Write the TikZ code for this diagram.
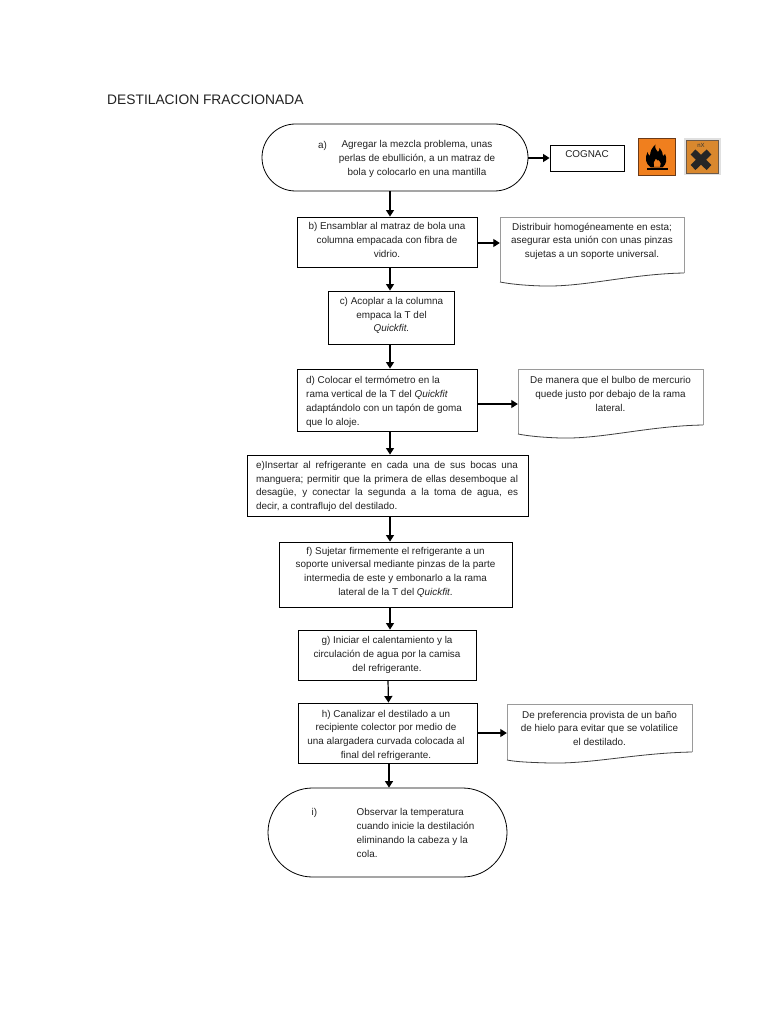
\documentclass[tikz,border=0pt]{standalone}
\usepackage{fontspec}
\setmainfont{Liberation Sans}
\usetikzlibrary{shapes.misc,arrows.meta}
\definecolor{ink}{HTML}{222222}
\definecolor{docedge}{HTML}{9A9A9A}
\definecolor{hazorange}{HTML}{F07F1E}
\definecolor{hazbrown}{HTML}{6B3A18}
\definecolor{xnorange}{HTML}{D9882E}
\definecolor{xnedge}{HTML}{6E5A48}
\tikzset{
  boxst/.style={draw=black,line width=.9pt,rectangle,inner sep=0pt},
  terminal/.style={draw=black,line width=.8pt,rounded rectangle,rounded rectangle arc length=180,inner sep=0pt},
  txt/.style={text=ink,align=center,inner sep=0pt,font=\fontsize{9.9}{13.8}\selectfont},
  ltxt/.style={text=ink,align=left,anchor=north west,inner sep=0pt,font=\fontsize{9.9}{13.8}\selectfont},
  flow/.style={draw=black,line width=1.2pt,-{Triangle[length=6.5pt,width=8pt]}},
  docside/.style={docedge,line width=.7pt},
  docwave/.style={black!60!docedge,line width=.8pt},
  hidden/.style={rectangle,inner sep=0pt,draw=none}
}
\begin{document}
\begin{tikzpicture}[x=1pt,y=-1pt]
\useasboundingbox (0,0) rectangle (768,1024);
\fill[white] (0,0) rectangle (768,1024);
\coordinate (spine) at (390,0);

\node[text=ink,anchor=west,inner sep=0pt,font=\fontsize{13.8}{17}\selectfont] (title) at (107,100) {DESTILACION FRACCIONADA};

% terminals and boxes
\node[terminal,minimum width=266pt,minimum height=67pt] (a) at (395,157.5) {};
\node[boxst,minimum width=74pt,minimum height=26pt] (cognac) at (587,158) {};
\node[boxst,minimum width=180pt,minimum height=50pt] (b) at (387,242) {};
\node[boxst,minimum width=126pt,minimum height=53pt] (c) at (391,317.5) {};
\node[boxst,minimum width=180pt,minimum height=62pt] (d) at (387,400) {};
\node[boxst,minimum width=281pt,minimum height=61pt] (e) at (387.5,485.5) {};
\node[boxst,minimum width=233pt,minimum height=65pt] (f) at (395.5,574.5) {};
\node[boxst,minimum width=178pt,minimum height=50pt] (g) at (387,655) {};
\node[boxst,minimum width=179pt,minimum height=60pt] (h) at (387.5,733) {};
\node[terminal,minimum width=239pt,minimum height=89pt] (i) at (387.5,832.5) {};

% wavy documents
\draw[docside] (500,282) -- (500,217) -- (684,217) -- (684,273);
\draw[docwave] (684,273) .. controls (630,274) and (585,287) .. (543,286) .. controls (525,285.5) and (510,284) .. (500,282);
\node[hidden,minimum width=184pt,minimum height=52pt] (doc1) at (592,243) {};
\draw[docside] (518,434) -- (518,369) -- (703,369) -- (703,425);
\draw[docwave] (703,425) .. controls (648,426) and (603,439) .. (561,438) .. controls (543,437.5) and (528,436) .. (518,434);
\node[hidden,minimum width=185pt,minimum height=70pt] (doc2) at (610.5,404) {};
\draw[docside] (507,760) -- (507,704) -- (692,704) -- (692,752);
\draw[docwave] (692,752) .. controls (637,753) and (592,764) .. (550,763) .. controls (532,762.5) and (517,762) .. (507,760);
\node[hidden,minimum width=185pt,minimum height=58pt] (doc3) at (599.5,733) {};

% texts
\node[ltxt] (alabel) at (318,141) {a)};
\node[txt] (atext) at (417,159) {Agregar la mezcla problema, unas\\perlas de ebullición, a un matraz de\\bola y colocarlo en una mantilla};
\node[txt] (cogtext) at (587,154) {COGNAC};
\node[txt] (btext) at (387,240) {b) Ensamblar al matraz de bola una\\columna empacada con fibra de\\vidrio.};
\node[txt] (ctext) at (391.5,315.5) {c) Acoplar a la columna\\empaca la T del\\\textit{Quickfit.}};
\node[ltxt] (dtext) at (306,376.5) {d) Colocar el termómetro en la\\rama vertical de la T del \textit{Quickfit}\\adaptándolo con un tapón de goma\\que lo aloje.};
\node[txt,align=justify,text width=262pt] (etext) at (387,486.5) {e)Insertar al refrigerante en cada una de sus bocas una\linebreak manguera; permitir que la primera de ellas desemboque al\linebreak desagüe, y conectar la segunda a la toma de agua, es\linebreak decir, a contraflujo del destilado.};
\node[txt] (ftext) at (395.5,572.2) {f) Sujetar firmemente el refrigerante a un\\soporte universal mediante pinzas de la parte\\intermedia de este y embonarlo a la rama\\lateral de la T del \textit{Quickfit}.};
\node[txt] (gtext) at (387,654.7) {g) Iniciar el calentamiento y la\\circulación de agua por la camisa\\del refrigerante.};
\node[txt] (htext) at (386,735.2) {h) Canalizar el destilado a un\\recipiente colector por medio de\\una alargadera curvada colocada al\\final del refrigerante.};
\node[ltxt] (ilabel) at (311.5,808.5) {i)};
\node[ltxt] (itext) at (356.5,808.5) {Observar la temperatura\\cuando inicie la destilación\\eliminando la cabeza y la\\cola.};
\node[txt] (d1text) at (592,241.3) {Distribuir homogéneamente en esta;\\asegurar esta unión con unas pinzas\\sujetas a un soporte universal.};
\node[txt] (d2text) at (610.5,394) {De manera que el bulbo de mercurio\\quede justo por debajo de la rama\\lateral.};
\node[txt] (d3text) at (599.5,728.3) {De preferencia provista de un baño\\de hielo para evitar que se volatilice\\el destilado.};

% connectors
\draw[flow] (a.south -| spine) -- (b.north -| spine);
\draw[flow] (b.south -| spine) -- (c.north -| spine);
\draw[flow] (c.south -| spine) -- (d.north -| spine);
\draw[flow] (d.south -| spine) -- (e.north -| spine);
\draw[flow] (e.south -| spine) -- (f.north -| spine);
\draw[flow] (f.south -| spine) -- (g.north -| spine);
\draw[flow] ([xshift=1pt]g.south) -- ([xshift=1pt]h.north);
\draw[flow] ([xshift=1.5pt]h.south) -- ([xshift=1.5pt]i.north);
\draw[flow] (a.east |- cognac.west) -- (cognac.west);
\draw[flow] (b.east |- doc1.west) -- (doc1.west);
\draw[flow] (d.east |- doc2.west) -- (doc2.west);
\draw[flow] (h.east |- doc3.west) -- (doc3.west);

% flammable pictogram
\fill[hazorange] (638,138) rectangle (675,175);
\draw[hazbrown,line width=.7pt] (638,138) rectangle (675,175);
\fill[black] (647,170.5) rectangle (668,168.3);
\fill[black,even odd rule] (651,167.5) .. controls (645.5,164) and (644.5,158) .. (647.5,152) .. controls (648,154) and (648.5,155) .. (650,156)
  .. controls (650,151) and (652,148) .. (655.5,144.5) .. controls (654.5,148) and (656,150) .. (658,152)
  .. controls (659,151) and (659.5,149.5) .. (659.5,148) .. controls (662,151) and (663,153.5) .. (663,156)
  .. controls (664,155.5) and (664.5,155) .. (665,154) .. controls (667.5,159) and (666.5,164) .. (662.5,167.5) -- cycle
  (654,167) .. controls (652.5,164) and (654,161.5) .. (656,158.5) .. controls (656.3,160.5) and (658,161) .. (658.3,160)
  .. controls (661,162) and (661.5,165) .. (660,167) -- cycle;

% harmful pictogram
\fill[black!12] (684,138) rectangle (721,175);
\fill[xnorange] (686,140) rectangle (718,173);
\draw[xnedge,line width=.8pt] (686,140) rectangle (718,173);
\draw[black!85,line width=7pt] (693,152) -- (709,167.5);
\draw[black!85,line width=7pt] (709,152) -- (693,167.5);
\node[text=black!80,inner sep=0pt,font=\fontsize{6}{6}\selectfont] (nx) at (701,145) {nX};
\end{tikzpicture}
\end{document}
